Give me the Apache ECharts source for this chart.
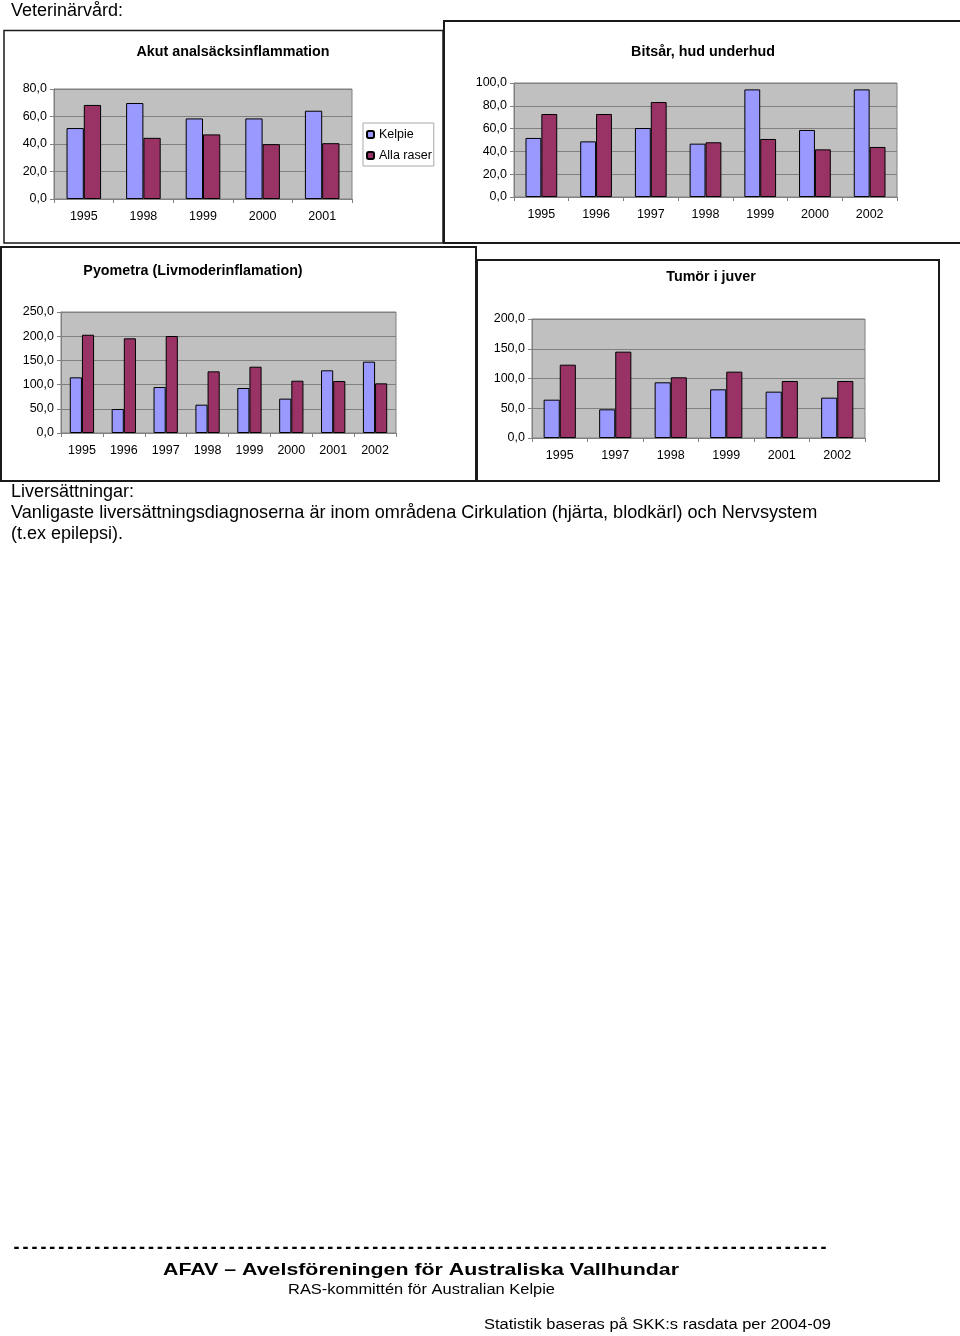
<!DOCTYPE html>
<html><head><meta charset="utf-8">
<script src="https://cdn.jsdelivr.net/npm/echarts@6/dist/echarts.min.js"></script>
<style>html,body{margin:0;padding:0;background:#fff}#c{width:960px;height:1336px}</style>
</head><body><div id="c"></div><script>
// ---- data ----
const seriesNames = ['Kelpie', 'Alla raser'];
const yearsAnal = ['1995', '1998', '1999', '2000', '2001'];
const kelpieAnal = [51.6, 69.8, 58.6, 58.6, 64.2];
const allaAnal = [68.4, 44.5, 47.0, 39.9, 40.6];

const yearsBit = ['1995', '1996', '1997', '1998', '1999', '2000', '2002'];
const kelpieBit = [51.8, 48.8, 60.5, 46.8, 94.4, 58.8, 94.4];
const allaBit = [72.8, 72.8, 83.3, 48.0, 50.9, 41.8, 43.9];

const yearsPyo = ['1995', '1996', '1997', '1998', '1999', '2000', '2001', '2002'];
const kelpiePyo = [115.0, 49.6, 95.0, 58.5, 93.0, 71.0, 129.5, 147.4];
const allaPyo = [203.0, 195.6, 200.4, 127.4, 137.0, 108.0, 107.4, 102.6];

const yearsTum = ['1995', '1997', '1998', '1999', '2001', '2002'];
const kelpieTum = [64.4, 48.2, 93.6, 81.8, 77.9, 67.8];
const allaTum = [123.2, 145.1, 102.0, 111.5, 95.8, 95.8];

const chartTitles = ['Akut analsäcksinflammation', 'Bitsår, hud underhud', 'Pyometra (Livmoderinflamation)', 'Tumör i juver'];
const yMax = [80, 100, 250, 200];
const yStep = [20, 20, 50, 50];

// ---- layout ----
const grids = [
  {left: 54, top: 89, width: 298, height: 110},
  {left: 514, top: 83, width: 383, height: 114},
  {left: 61, top: 312, width: 335, height: 121},
  {left: 532, top: 319, width: 333, height: 119}
];
const cats = [yearsAnal, yearsBit, yearsPyo, yearsTum];
const kel = [kelpieAnal, kelpieBit, kelpiePyo, kelpieTum];
const alla = [allaAnal, allaBit, allaPyo, allaTum];
const titlePos = [[233, 52], [703, 52], [193, 271], [711, 277]];

const KEL_C = '#9999FF', ALLA_C = '#993366';
const fmt = v => v.toFixed(1).replace('.', ',');

const xAxis = [], yAxis = [], series = [];
grids.forEach((g, i) => {
  xAxis.push({
    type: 'category', gridIndex: i, data: cats[i],
    axisLine: {lineStyle: {color: '#808080'}},
    axisTick: {show: true, length: 4, lineStyle: {color: '#808080'}},
    axisLabel: {color: '#000', fontFamily: 'Liberation Sans, Arial', fontSize: 12.5, margin: 11}
  });
  yAxis.push({
    type: 'value', gridIndex: i, min: 0, max: yMax[i], interval: yStep[i],
    axisLine: {show: true, lineStyle: {color: '#808080'}},
    axisTick: {show: true, length: 4, lineStyle: {color: '#808080'}},
    splitLine: {lineStyle: {color: '#808080', width: 1}},
    axisLabel: {color: '#000', fontFamily: 'Liberation Sans, Arial', fontSize: 12.5, margin: 7, formatter: fmt}
  });
  series.push({
    name: seriesNames[0], type: 'bar', xAxisIndex: i, yAxisIndex: i, data: kel[i],
    barGap: '0%', barCategoryGap: '42%',
    itemStyle: {color: KEL_C, borderColor: '#000', borderWidth: 1}
  });
  series.push({
    name: seriesNames[1], type: 'bar', xAxisIndex: i, yAxisIndex: i, data: alla[i],
    barGap: '0%', barCategoryGap: '42%',
    itemStyle: {color: ALLA_C, borderColor: '#000', borderWidth: 1}
  });
});

const mctx = document.createElement('canvas').getContext('2d');
const measure = (text, font) => { mctx.font = font; return mctx.measureText(text).width; };

const txt = (x, y, text, font, extra) => Object.assign({
  type: 'text', x: x, y: y, silent: true,
  style: Object.assign({text: text, font: font, fill: '#000', textAlign: 'left', textVerticalAlign: 'middle'}, extra || {})
});
// left-aligned text stretched horizontally to a target width (letter-spaced look)
const wideTxt = (x, y, text, font, targetW) => {
  const t = txt(x, y, text, font);
  t.scaleX = targetW / measure(text, font);
  return t;
};
const box = (x, y, w, h, lw) => ({
  type: 'rect', silent: true, shape: {x: x, y: y, width: w, height: h},
  style: {fill: null, stroke: '#1a1a1a', lineWidth: lw}
});

const F = '"Liberation Sans", Arial';
const graphic = [
  box(4, 30.5, 439, 212.5, 1.5),
  box(444, 21, 540, 222, 2),
  box(1, 247, 475, 234, 2),
  box(477, 260, 462, 221, 2),
  txt(11, 11, 'Veterinärvård:', '18px ' + F),
  txt(11, 492, 'Liversättningar:', '18px ' + F),
  txt(11, 513, 'Vanligaste liversättningsdiagnoserna är inom områdena Cirkulation (hjärta, blodkärl) och Nervsystem', '18.1px ' + F),
  txt(11, 534, '(t.ex epilepsi).', '18px ' + F),
  wideTxt(12, 1248, '-'.repeat(91), 'bold 15px "DejaVu Sans Mono"', 816),
  wideTxt(163, 1270, 'AFAV – Avelsföreningen för Australiska Vallhundar', 'bold 16.5px ' + F, 516),
  wideTxt(288, 1290, 'RAS-kommittén för Australian Kelpie', '14px ' + F, 267),
  wideTxt(484, 1325, 'Statistik baseras på SKK:s rasdata per 2004-09', '14px ' + F, 347)
];
chartTitles.forEach((t, i) => {
  graphic.push(txt(titlePos[i][0], titlePos[i][1], t, 'bold 14.3px ' + F, {textAlign: 'center'}));
});

const chart = echarts.init(document.getElementById('c'), null, {renderer: 'canvas'});
chart.setOption({
  animation: false,
  backgroundColor: '#fff',
  grid: grids.map(g => Object.assign({show: true, backgroundColor: '#c0c0c0', borderColor: '#808080', borderWidth: 1}, g)),
  legend: {
    data: seriesNames, orient: 'vertical', left: 363, top: 123,
    itemWidth: 7, itemHeight: 7, itemGap: 8,
    padding: [5, 2, 4, 3],
    borderColor: '#aaa', borderWidth: 1,
    textStyle: {color: '#000', fontFamily: 'Liberation Sans, Arial', fontSize: 12.5}
  },
  xAxis: xAxis, yAxis: yAxis, series: series,
  graphic: graphic
});
</script></body></html>
